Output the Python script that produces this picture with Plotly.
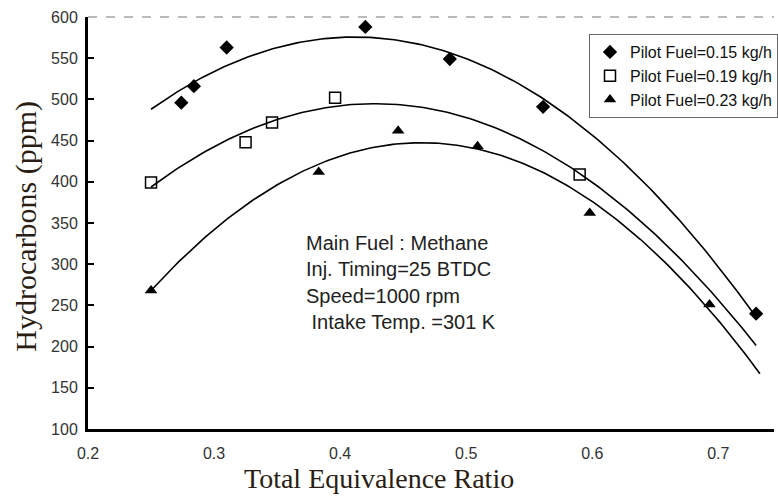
import numpy as np
import plotly.graph_objects as go

# ---- data ----
phi_015 = [0.274, 0.284, 0.310, 0.420, 0.487, 0.561, 0.730]
hc_015 = [496, 516, 563, 588, 549, 491, 240]

phi_019 = [0.250, 0.325, 0.346, 0.396, 0.590]
hc_019 = [399, 448, 472, 502, 409]

phi_023 = [0.250, 0.383, 0.446, 0.509, 0.598, 0.693]
hc_023 = [268, 412, 462, 443, 362, 251]

series_names = ["Pilot Fuel=0.15 kg/h", "Pilot Fuel=0.19 kg/h", "Pilot Fuel=0.23 kg/h"]
fit_start = [0.25, 0.25, 0.25]
fit_end = [0.730, 0.730, 0.733]

x_ticks = [0.2, 0.3, 0.4, 0.5, 0.6, 0.7]
y_ticks = [100, 150, 200, 250, 300, 350, 400, 450, 500, 550, 600]

info_lines = ["Main Fuel : Methane", "Inj. Timing=25 BTDC", "Speed=1000 rpm", " Intake Temp. =301 K"]

series = [(phi_015, hc_015, "diamond"), (phi_019, hc_019, "square-open"), (phi_023, hc_023, "triangle-up")]

fig = go.Figure()

# quadratic trend lines fitted to each series
for (xs, ys, _), x0, x1 in zip(series, fit_start, fit_end):
    c = np.polyfit(xs, ys, 2)
    xf = np.linspace(x0, x1, 200)
    fig.add_trace(go.Scatter(x=xf, y=np.polyval(c, xf), mode="lines",
                             line=dict(color="black", width=1.6),
                             showlegend=False, hoverinfo="skip"))

for i, ((xs, ys, sym), name) in enumerate(zip(series, series_names)):
    fig.add_trace(go.Scatter(x=xs, y=ys, mode="markers", name=name, legendgroup=f"g{i}",
                             marker=dict(symbol=sym, size=11, color="black",
                                         line=dict(color="black", width=1.5 if sym == "square-open" else 0))))

fig.update_layout(
    width=778, height=498,
    margin=dict(l=88, r=0, t=17, b=69),
    paper_bgcolor="white", plot_bgcolor="white",
    font=dict(family="Liberation Sans, Arial", size=16, color="#333333"),
    showlegend=True,
    legend=dict(x=(592 - 88) / 690, y=1 - (34 - 17) / 412, xanchor="left", yanchor="top",
                bgcolor="white", bordercolor="#666666", borderwidth=1,
                font=dict(family="Liberation Sans, Arial", size=16, color="#111111"),
                traceorder="grouped", tracegroupgap=0, itemwidth=30),
)

fig.update_xaxes(range=[0.2, 0.2 + 690 / 1268], tickvals=x_ticks, ticktext=[f"{v:.1f}" for v in x_ticks],
                 showline=True, linecolor="black", linewidth=3, showgrid=False, zeroline=False,
                 ticks="", ticklabelstandoff=8)
fig.update_yaxes(range=[100, 600], tickvals=y_ticks, showline=True, linecolor="black", linewidth=3,
                 showgrid=False, zeroline=False, ticks="inside", ticklen=6, tickwidth=2, tickcolor="black",
                 ticklabelstandoff=4)

# dashed top frame line
fig.add_shape(type="line", xref="paper", yref="paper", x0=0, x1=1, y0=1, y1=1,
              line=dict(color="#777777", width=1, dash="dash"))

# axis titles
fig.add_annotation(text="Total Equivalence Ratio", xref="x", yref="paper", x=0.431, y=-0.077,
                   yanchor="top", showarrow=False,
                   font=dict(family="Liberation Serif, Times New Roman", size=28, color="#2a1d14"))
fig.add_annotation(text="Hydrocarbons (ppm)", xref="paper", yref="y", x=(26 - 88) / 690, y=346,
                   xanchor="center", yanchor="middle", textangle=-90, showarrow=False,
                   font=dict(family="Liberation Serif, Times New Roman", size=30, color="#2a1d14"))

# info text
for i, t in enumerate(info_lines):
    fig.add_annotation(text=t, xref="x", yref="paper", x=0.2 + (305 - 88) / 1268,
                       y=1 - (243 + 26.3 * i - 17) / 412, xanchor="left", yanchor="middle",
                       showarrow=False, font=dict(family="Liberation Sans, Arial", size=20, color="#222222"))

fig.write_html("out.html")
